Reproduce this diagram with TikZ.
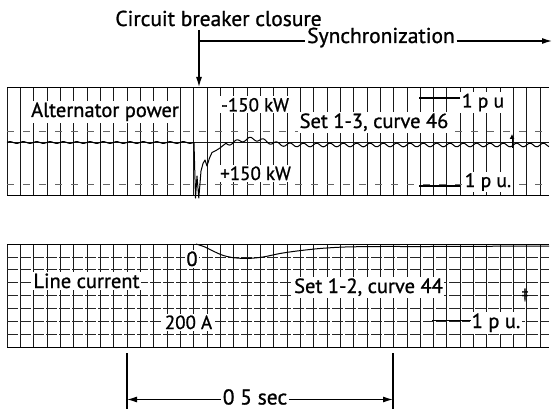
\documentclass[tikz,border=0pt]{standalone}
\usepackage{fontspec}
\setmainfont{PT Sans}[BoldFont={PT Sans},BoldFeatures={FakeBold=1.0}]
\usetikzlibrary{arrows.meta}
\begin{document}
\begin{tikzpicture}[x=1pt,y=-1pt,
  gridv/.style={line width=0.8pt, black!90},
  gridh/.style={line width=0.7pt, black!85, dash pattern=on 11pt off 2pt},
  gridfaint/.style={line width=0.6pt, black!60, dash pattern=on 7pt off 9pt},
  border/.style={line width=1pt},
  lbl/.style={fill=white, inner sep=1.5pt, anchor=base, font=\fontsize{20.5}{20.5}\selectfont\bfseries},
  ann/.style={inner sep=1.5pt, anchor=base, font=\fontsize{21.5}{21.5}\selectfont\bfseries},
  trace/.style={line width=1pt, line join=round},
  bar/.style={line width=1.8pt},
  conn/.style={line width=1.2pt},
  arr/.style={line width=1.2pt, -{Latex[length=10pt,width=6pt]}}]
\useasboundingbox (0,0) rectangle (554,409);

% ---------------- top chart: alternator power ----------------
\foreach \i in {0,...,40} \draw[gridv] ({7+13.33*\i},88) -- ({7+13.33*\i},195);
\draw[gridfaint] (7,131) -- (549,131);
\draw[gridfaint] (7,184) -- (549,184);
\draw[border] (7,88) -- (549,88);
\draw[border] (7,195) -- (549,195);
\draw[gridv] (7,142) -- (549,142);

% trace
\draw[trace] plot[domain=7:194, samples=160, variable=\t] (\t, {142.5+0.9*sin(27*\t)});
\draw[trace] (194,142.5) -- (195.5,198) -- (197,176) -- (198.8,198) -- (201,171)
  -- (203,163.5) -- (205,160) -- (207,166) -- (209.5,158) -- (212,152.5)
  -- (216,150.5) -- (220,148) -- (223,145.5) -- (226,143.3);
\draw[trace] plot[domain=226:549, samples=300, variable=\t]
  (\t, {145-6*exp(-min(((\t-252)/20)*((\t-252)/20),30))+1.8*sin(27*\t)});

% labels
\node[lbl] (altp) at (105,117) {Alternator power};
\node[lbl, font=\fontsize{19}{19}\selectfont\bfseries] (m150) at (255,111.5) {-150 kW};
\node[lbl, font=\fontsize{19}{19}\selectfont\bfseries] (p150) at (255.5,180) {+150 kW};
\node[lbl] (set13) at (374,128) {Set 1-3, curve 46};
\node[lbl, font=\fontsize{19.5}{19.5}\selectfont\bfseries] (pu1) at (483,107.5) {1 p u};
\node[lbl, font=\fontsize{19.5}{19.5}\selectfont\bfseries] (pu2) at (488,187) {1 p u.};
\coordinate (b1a) at (419,98); \coordinate (b1b) at (460,98);
\draw[bar] (b1a) -- (b1b);
\coordinate (b2a) at (419,186); \coordinate (b2b) at (460,186);
\draw[bar] (b2a) -- (b2b);
\coordinate (mk1a) at (512,148); \coordinate (mk1b) at (512,134);
\draw[line width=0.9pt, -{Latex[length=5pt,width=5pt]}] (mk1a) -- (mk1b);

% ---------------- bottom chart: line current ----------------
\foreach \i in {0,...,40} \draw[gridv] ({7+13.33*\i},244) -- ({7+13.33*\i},347);
\foreach \j in {1,...,7} \draw[gridh] (7,{244+12.875*\j}) -- (549,{244+12.875*\j});
\draw[border] (7,244) -- (549,244);
\draw[border] (7,347) -- (549,347);

\draw[trace] plot[smooth] coordinates {(196,244) (205,247) (213,251) (222,255)
  (232,257.5) (247,258.5) (263,257) (280,253.5) (297,251) (320,248.5) (345,247)
  (380,246.5) (430,246.5) (549,246)};

\node[lbl] (lc) at (86.5,288) {Line current};
\node[lbl] (zero) at (192,266) {0};
\node[lbl, font=\fontsize{19}{19}\selectfont\bfseries] (a200) at (188.5,329) {200 A};
\node[lbl] (set12) at (368.5,293) {Set 1-2, curve 44};
\node[lbl] (pu3) at (496,328) {1 p u.};
\coordinate (b3a) at (432,320.5); \coordinate (b3b) at (471,320.5);
\draw[bar] (b3a) -- (b3b);
\node[inner sep=0pt, font=\fontsize{14}{14}\selectfont\bfseries] (mk2) at (525,295) {‡};

% ---------------- annotations ----------------
\node[ann] (cbc) at (218.5,26) {Circuit breaker closure};
\node[ann, fill=white] (sync) at (381,43) {Synchronization};
\coordinate (v0) at (199,30);
\coordinate (vtip) at (199,87);
\draw[arr] (v0) -- (vtip);
\coordinate (h0) at (199,41);
\coordinate (htip) at (552,41);
\draw[conn] (h0) -- (sync.west |- h0);
\draw[arr] (sync.east |- h0) -- (htip);

% 0.5 sec span
\coordinate (l0) at (127,353); \coordinate (l1) at (127,409);
\coordinate (r0) at (393,353); \coordinate (r1) at (393,409);
\draw[conn] (l0) -- (l1);
\draw[conn] (r0) -- (r1);
\node[ann] (sec) at (255,404.5) {0 5 sec};
\coordinate (la) at (127,399.5); \coordinate (ra) at (393,399.5);
\draw[arr] (sec.west |- la) -- (la);
\draw[arr] (sec.east |- ra) -- (ra);
\end{tikzpicture}
\end{document}
